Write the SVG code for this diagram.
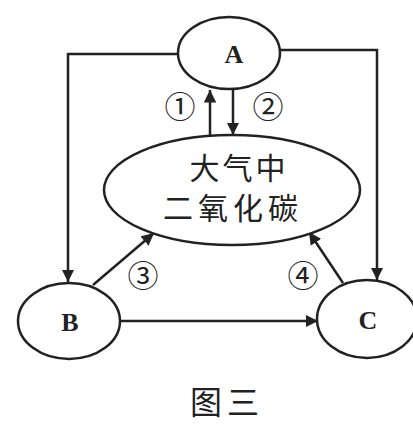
<svg xmlns="http://www.w3.org/2000/svg" width="413" height="426" viewBox="0 0 413 426">
<defs>
<marker id="ah" viewBox="0 0 10 10" refX="10" refY="5" markerWidth="5" markerHeight="5" orient="auto" markerUnits="strokeWidth">
<path d="M0,0 L10,5 L0,10 z" fill="#222"/>
</marker>
<style>
.n{fill:#fff;stroke:#222;stroke-width:2.5}
.c{fill:none;stroke:#222;stroke-width:2.5}
.t{font-family:"Liberation Serif","Times New Roman",serif;font-weight:bold;fill:#222;text-anchor:middle}
.z{font-family:"Noto Sans CJK SC","Noto Sans",sans-serif;fill:#222;text-anchor:middle}
</style>
</defs>
<rect width="413" height="426" fill="#fff"/>
<g id="connectors">
<polyline class="c" points="178,54 68,54 68,282" marker-end="url(#ah)"/>
<polyline class="c" points="280,50 377,50 377,280" marker-end="url(#ah)"/>
<line class="c" x1="210" y1="135" x2="210" y2="90" marker-end="url(#ah)"/>
<line class="c" x1="233" y1="90" x2="233" y2="135" marker-end="url(#ah)"/>
<line class="c" x1="93" y1="285" x2="154" y2="233" marker-end="url(#ah)"/>
<line class="c" x1="343" y1="283" x2="309" y2="232" marker-end="url(#ah)"/>
<line class="c" x1="120" y1="321" x2="318" y2="321" marker-end="url(#ah)"/>
<text class="z" x="180" y="118" font-size="31" fill="#333">①</text>
<text class="z" x="268" y="118" font-size="31" fill="#333">②</text>
<text class="z" x="143" y="287" font-size="31" fill="#333">③</text>
<text class="z" x="303" y="287" font-size="31" fill="#333">④</text>
</g>
<g id="A">
<ellipse class="n" cx="229" cy="53" rx="51" ry="36"/>
<text class="t" x="234" y="63" font-size="26">A</text>
</g>
<g id="CO2">
<ellipse class="n" cx="232" cy="190" rx="128" ry="55"/>
<text class="z" x="239" y="179" font-size="30" letter-spacing="3">大气中</text>
<text class="z" x="233" y="219" font-size="30" letter-spacing="5">二氧化碳</text>
</g>
<g id="B">
<ellipse class="n" cx="69" cy="321" rx="51" ry="38"/>
<text class="t" x="70" y="331" font-size="26">B</text>
</g>
<g id="C">
<ellipse class="n" cx="367" cy="319" rx="50" ry="39"/>
<text class="t" x="368" y="329" font-size="26">C</text>
</g>
<text class="z" x="227" y="414" font-size="32" fill="#333" letter-spacing="5">图三</text>
</svg>
